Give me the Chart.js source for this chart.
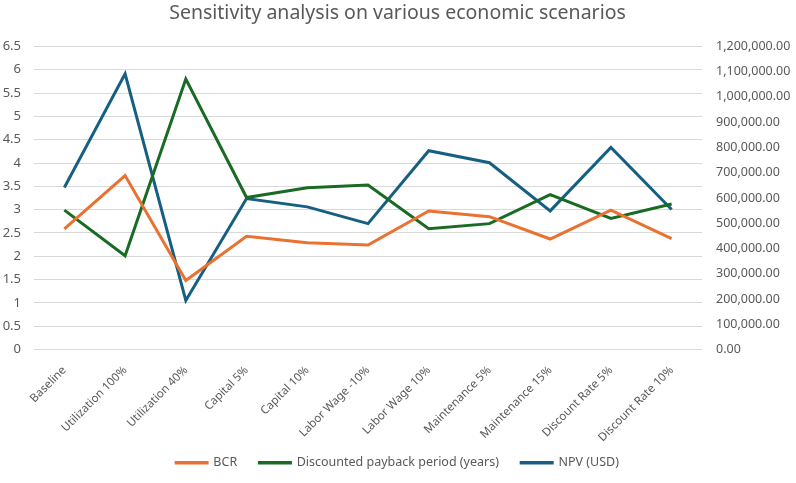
<!DOCTYPE html>
<html>
<head>
<meta charset="utf-8">
<script src="https://cdn.jsdelivr.net/npm/chart.js@4"></script>
<style>
  html, body { margin: 0; padding: 0; background: #fff; }
  #wrap { width: 796px; height: 483px; }
</style>
</head>
<body>
<div id="wrap"><canvas id="sens"></canvas></div>
<script>
const scenarios = ["Baseline", "Utilization 100%", "Utilization 40%", "Capital 5%", "Capital 10%",
  "Labor Wage -10%", "Labor Wage 10%", "Maintenance 5%", "Maintenance 15%", "Discount Rate 5%", "Discount Rate 10%"];
const bcr = [2.59, 3.73, 1.48, 2.43, 2.29, 2.24, 2.97, 2.85, 2.37, 2.99, 2.38];
const payback = [2.99, 2.01, 5.80, 3.26, 3.47, 3.53, 2.59, 2.70, 3.32, 2.81, 3.12];
const npv = [641500, 1091600, 194500, 597800, 564900, 498600, 787100, 739500, 549000, 800300, 554200];

const fontFam = "'Noto Sans', 'Open Sans', sans-serif";
const grey = '#595959';

function line(label, data, color, axis) {
  return {
    label: label, data: data, yAxisID: axis,
    borderColor: color, backgroundColor: color,
    borderWidth: 3, pointRadius: 0, tension: 0
  };
}

new Chart(document.getElementById('sens'), {
  type: 'line',
  data: {
    labels: scenarios,
    datasets: [
      line('BCR', bcr, '#E97132', 'y'),
      line('Discounted payback period (years)', payback, '#196B24', 'y'),
      line('NPV (USD)', npv, '#156082', 'y1')
    ]
  },
  options: {
    responsive: true,
    maintainAspectRatio: false,
    animation: false,
    layout: { padding: { left: 2, right: 3, top: 2, bottom: 4 } },
    plugins: {
      title: {
        display: true,
        text: 'Sensitivity analysis on various economic scenarios',
        color: grey,
        font: { family: fontFam, size: 19.5, weight: 'normal' },
        padding: { top: 0, bottom: 21 }
      },
      legend: {
        position: 'bottom',
        labels: {
          boxWidth: 31, boxHeight: 0.5,
          color: grey, font: { family: fontFam, size: 12.5 }, padding: 6,
          generateLabels: chart => {
            const items = Chart.defaults.plugins.legend.labels.generateLabels(chart);
            // widen the gap between legend entries
            items.forEach((it, i) => { if (i < items.length - 1) it.text += '     '; });
            return items;
          }
        }
      },
      tooltip: { enabled: false }
    },
    scales: {
      x: {
        offset: true,
        grid: { display: false },
        border: { display: false },
        ticks: {
          color: grey, font: { family: fontFam, size: 11.5 }, padding: 6,
          maxRotation: 45, minRotation: 45, autoSkip: false
        }
      },
      y: {
        position: 'left',
        min: 0, max: 6.5,
        grid: { color: '#d9d9d9', lineWidth: 1, drawTicks: false },
        border: { display: false },
        afterFit: scale => { scale.width = 32; },
        ticks: {
          stepSize: 0.5, color: grey, font: { family: fontFam, size: 13 }, padding: 13,
          callback: v => String(Number(v.toFixed(1)))
        }
      },
      y1: {
        position: 'right',
        min: 0, max: 1200000,
        grid: { display: false, drawTicks: false },
        border: { display: false },
        afterFit: scale => { scale.width = 91; },
        ticks: {
          stepSize: 100000, color: grey, font: { family: fontFam, size: 12.5 }, padding: 14,
          callback: v => v.toLocaleString('en-US', { minimumFractionDigits: 2, maximumFractionDigits: 2 })
        }
      }
    }
  }
});
</script>
</body>
</html>
